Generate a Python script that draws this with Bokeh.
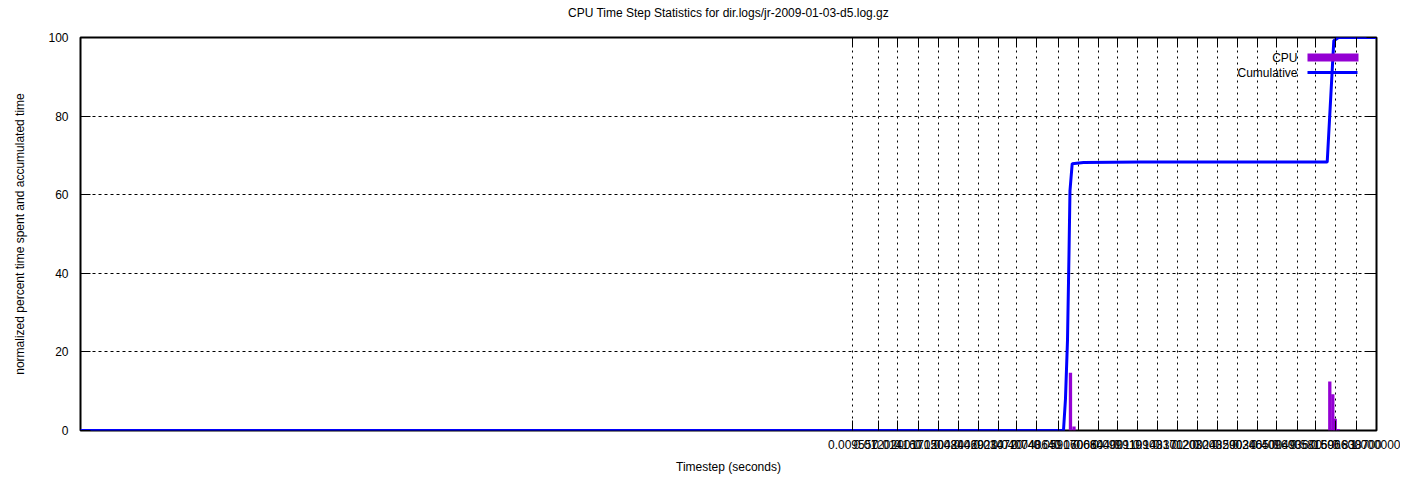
from bokeh.plotting import figure
from bokeh.models import (Range1d, FixedTicker, CustomJSTickFormatter, LogAxis,
                          LinearAxis, Label, BoxAnnotation)
from bokeh.embed import file_html
from bokeh.resources import INLINE

# ---- data ----
x_ticks = [0.009557, 0.01202, 0.01416, 0.01715, 0.02048, 0.02446, 0.02921,
           0.03472, 0.04074, 0.04864, 0.05916, 0.07066, 0.08440, 0.09991,
           0.1199, 0.1433, 0.1712, 0.2030, 0.2435, 0.2902, 0.3465, 0.4096,
           0.4936, 0.5815, 0.6966, 0.8387, 1.0]
x_labels = ["0.009557", "0.012020", "0.014160", "0.017150", "0.020480",
            "0.024460", "0.029210", "0.034720", "0.040740", "0.048640",
            "0.059160", "0.070660", "0.084400", "0.099910", "0.119900",
            "0.143300", "0.171200", "0.203000", "0.243500", "0.290200",
            "0.346500", "0.409600", "0.493600", "0.581500", "0.696600",
            "0.838700", "1.000000"]
y_ticks = [0, 20, 40, 60, 80, 100]

cpu_t = [0.06597, 0.06806, 0.6604, 0.6783, 0.6929, 0.7105]
cpu_pct = [14.7, 1.0, 12.5, 9.2, 3.0, 0.4]

cum_t = [0.00001, 0.0620, 0.0631, 0.06425, 0.06511, 0.06568, 0.06699,
         0.07407, 0.1229, 0.6454, 0.6844, 0.7135, 1.0]
cum_pct = [0, 0, 8, 23, 45, 61, 67.9, 68.2, 68.3, 68.3, 99.2, 100, 100]

TITLE = "CPU Time Step Statistics for dir.logs/jr-2009-01-03-d5.log.gz"
CPU_COLOR = "#9400d3"
CUM_COLOR = "#0000ff"
FONT = "Liberation Sans"

p = figure(width=1400, height=479, x_axis_type="log",
           x_range=Range1d(0.00001, 1.0), y_range=Range1d(0, 100),
           output_backend="svg", toolbar_location=None, title=TITLE,
           min_border_left=80, min_border_right=24, min_border_top=37,
           min_border_bottom=49)

p.title.align = "center"
p.title.text_font = FONT
p.title.text_font_size = "12px"
p.title.text_font_style = "normal"
p.title.text_color = "black"
p.title.standoff = 2

p.outline_line_color = "black"
p.outline_line_width = 2
p.outline_line_alpha = 1

xt = FixedTicker(ticks=x_ticks)
yt = FixedTicker(ticks=y_ticks)

fmt = CustomJSTickFormatter(args=dict(tv=x_ticks, labels=x_labels), code="""
let best = 0, bd = Infinity;
for (let i = 0; i < tv.length; i++) {
  const d = Math.abs(Math.log(tv[i]) - Math.log(tick));
  if (d < bd) { bd = d; best = i; }
}
return labels[best];
""")

xa = p.xaxis[0]
xa.ticker = xt
xa.formatter = fmt
xa.axis_label = "Timestep (seconds)"
ya = p.yaxis[0]
ya.ticker = yt
ya.axis_label = "normalized percent time spent and accumulated time"

for ax in (xa, ya):
    ax.axis_line_color = None
    ax.major_tick_in = 10
    ax.major_tick_out = 0
    ax.major_tick_line_color = "black"
    ax.minor_tick_line_color = None
    ax.major_label_text_font = FONT
    ax.major_label_text_font_size = "12px"
    ax.major_label_text_color = "black"
    ax.axis_label_text_font = FONT
    ax.axis_label_text_font_size = "12px"
    ax.axis_label_text_font_style = "normal"
    ax.axis_label_text_color = "black"

xa.major_label_standoff = 9
xa.axis_label_standoff = 8
ya.major_label_standoff = 12
ya.axis_label_standoff = 18

top_ax = LogAxis(ticker=FixedTicker(ticks=x_ticks))
right_ax = LinearAxis(ticker=FixedTicker(ticks=y_ticks))
for ax in (top_ax, right_ax):
    ax.axis_line_color = None
    ax.major_tick_in = 10
    ax.major_tick_out = 0
    ax.major_tick_line_color = "black"
    ax.minor_tick_line_color = None
    ax.major_label_text_font_size = "0px"
    ax.major_label_text_color = None
    ax.major_label_standoff = 0
# invisible spacer label on the mirrored top axis keeps the title high
top_ax.axis_label = " "
top_ax.axis_label_text_font = FONT
top_ax.axis_label_text_font_size = "12px"
top_ax.axis_label_text_color = None
top_ax.axis_label_standoff = 0
p.add_layout(top_ax, "above")
p.add_layout(right_ax, "right")

p.xgrid.grid_line_color = "black"
p.xgrid.grid_line_dash = "2 4"
p.xgrid.grid_line_width = 1
p.ygrid.grid_line_color = "black"
p.ygrid.grid_line_dash = "3 3"
p.ygrid.grid_line_width = 1

# CPU impulses
p.segment(x0=cpu_t, y0=[0] * len(cpu_t), x1=cpu_t, y1=cpu_pct,
          line_color=CPU_COLOR, line_width=3.3, line_cap="butt")
# Cumulative line
p.line(cum_t, cum_pct, line_color=CUM_COLOR, line_width=3)

# key (gnuplot style: text right-justified, sample to the right)
p.add_layout(Label(x=1217, y=373, x_units="screen", y_units="screen",
                   text="CPU", text_align="right", text_baseline="middle",
                   text_font=FONT, text_font_size="12px", text_color="black"))
p.add_layout(Label(x=1217, y=358, x_units="screen", y_units="screen",
                   text="Cumulative", text_align="right", text_baseline="middle",
                   text_font=FONT, text_font_size="12px", text_color="black"))
p.add_layout(BoxAnnotation(left=1227, right=1278, bottom=369, top=377,
                           left_units="screen", right_units="screen",
                           bottom_units="screen", top_units="screen",
                           fill_color=CPU_COLOR, fill_alpha=1, line_color=None))
p.add_layout(BoxAnnotation(left=1227, right=1277, bottom=356.5, top=359.5,
                           left_units="screen", right_units="screen",
                           bottom_units="screen", top_units="screen",
                           fill_color=CUM_COLOR, fill_alpha=1, line_color=None))

open("out.html", "w").write(file_html(p, INLINE))
